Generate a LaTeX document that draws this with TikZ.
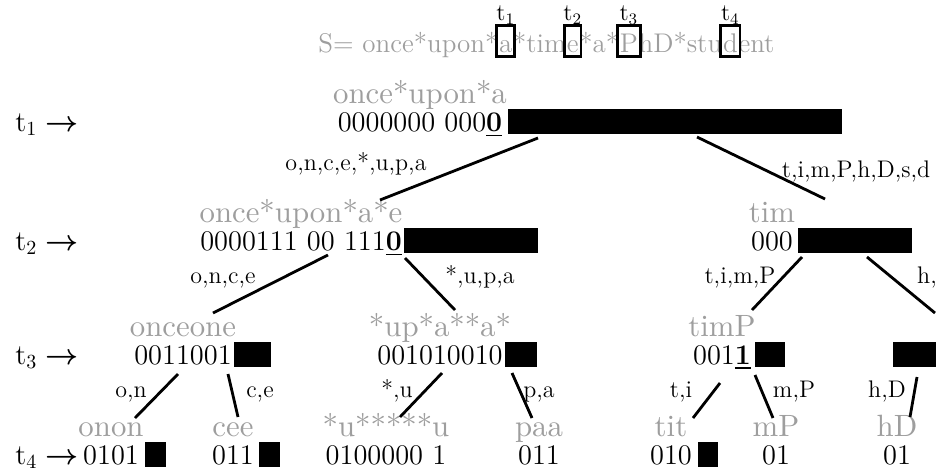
\documentclass[tikz,border=0pt]{standalone}
\usepackage{fontspec}
\usepackage{amsmath}
\newfontfamily\motfont{lmroman10-regular.otf}
\definecolor{gris}{gray}{0.62}
\newcommand{\fl}{{\boldmath$\rightarrow$}}
\begin{document}
\begin{tikzpicture}[x=0.5pt,y=-0.5pt]
	\tikzset{mot/.style={anchor=base, inner sep=0pt, text=gris, font=\motfont\fontsize{15.4}{18}\selectfont},
	code/.style={anchor=base, inner sep=0pt, font=\fontsize{14.2}{17}\selectfont},
	etiq/.style={anchor=base, inner sep=0pt, font=\large},
	arete/.style={line width=1.4pt},
	lettre/.style={anchor=base west, inner sep=0pt, text=gris, text height=13pt, text depth=2pt, font=\fontsize{13.5}{16}\selectfont}};

	\useasboundingbox (0,0) rectangle (936,472);

	% la phrase S avec les positions t1..t4
	\node[lettre] (s0) at (318,52) {S= once*upon*};
	\node[lettre] (c1) at (s0.base east) {a};
	\node[lettre] (s1) at (c1.base east) {*tim};
	\node[lettre] (c2) at (s1.base east) {e};
	\node[lettre] (s2) at (c2.base east) {*a*};
	\node[lettre] (c3) at (s2.base east) {P};
	\node[lettre] (s3) at (c3.base east) {hD*stu};
	\node[lettre] (c4) at (s3.base east) {d};
	\node[lettre] (s4) at (c4.base east) {ent};
	\foreach \i in {1,...,4}{
		\draw[line width=1.3pt] ([xshift=-1pt]c\i.south west) rectangle ([xshift=1pt]c\i.north east);
		\node[anchor=south, inner sep=0.5pt, font=\large] (t\i) at (c\i.north) {$\mathrm{t}_\i$};
	}

	% niveaux
	\foreach \r/\y in {1/131, 2/250, 3/364, 4/464}{
		\node[anchor=base west, inner sep=0pt, font=\Large] (n\r) at (15,\y) {$\mathrm{t}_\r\;$\fl};
	}

	% noeuds de l'arbre : mot en gris, bits en dessous
	\foreach \n/\x/\y/\m/\c in {r/420/131/once*upon*a/{0000000 000\underline{\textbf{0}}},
		g/301/250/once*upon*a*e/{0000111 00 111\underline{\textbf{0}}}, d/772/250/tim/000,
		gg/183/364/onceone/0011001, gd/440/364/*up*a**a*/001010010,
		dg/722/364/timP/{001\underline{\textbf{1}}}, dd/960/364/{}/{},
		ggg/111/464/onon/0101, ggd/233/464/cee/011, gdg/386/464/*u*****u/{0100000 1},
		gdd/539/464/paa/011, dgg/671/464/tit/010, dgd/776/464/mP/01, ddg/897/464/hD/01}{
		\node[code] (\n) at (\x,\y) {\c};
		\node[mot] (\n-m) at (\x,\y-28) {\m};
	}

	% blocs noirs
	\foreach \x/\y/\w in {508/131/334, 404/250/134, 798/250/114, 234/364/37, 505/364/32,
		755/364/30, 893/364/43, 145/464/21, 259/464/21, 698/464/20}
		\fill (\x,\y+3) rectangle ++(\w,-25);

	% aretes
	\foreach \a/\sa/\b/\sb in {r/{118,7}/g/{79,-22}, r/{277,6}/d/{53,-23},
		g/{27,5}/gg/{30,-23}, g/{104,8}/gd/{15,-26}, d/{30,7}/dg/{30,-26}, d/{95,7}/dd/{-25,-23},
		gg/{-5,10}/ggg/{24,-18}, gg/{45,10}/ggd/{5,-19}, gd/{2,9}/gdg/{14,-19}, gd/{72,9}/gdd/{-7,-18},
		dg/{-2,19}/dgg/{22,-18}, dg/{33,11}/dgd/{-3,-18}, dd/{-43,13}/ddg/{13,-19}}
		\draw[arete] ([shift={(\sa)}]\a.base) -- ([shift={(\sb)}]\b-m.base);

	\foreach \x/\y/\e in {356/170/{o,n,c,e,*,u,p,a}, 856/177/{t,i,m,P,h,D,s,d},
		223/283/{o,n,c,e}, 480/283/{*,u,p,a}, 740/283/{t,i,m,P}, 927/283/{h,},
		131/397/{o,n}, 260/397/{c,e}, 397/397/{*,u}, 539/397/{p,a},
		681/397/{t,i}, 794/397/{m,P}, 887/397/{h,D}}
		\node[etiq] (e-\x) at (\x,\y) {\e};
\end{tikzpicture}
\end{document}
